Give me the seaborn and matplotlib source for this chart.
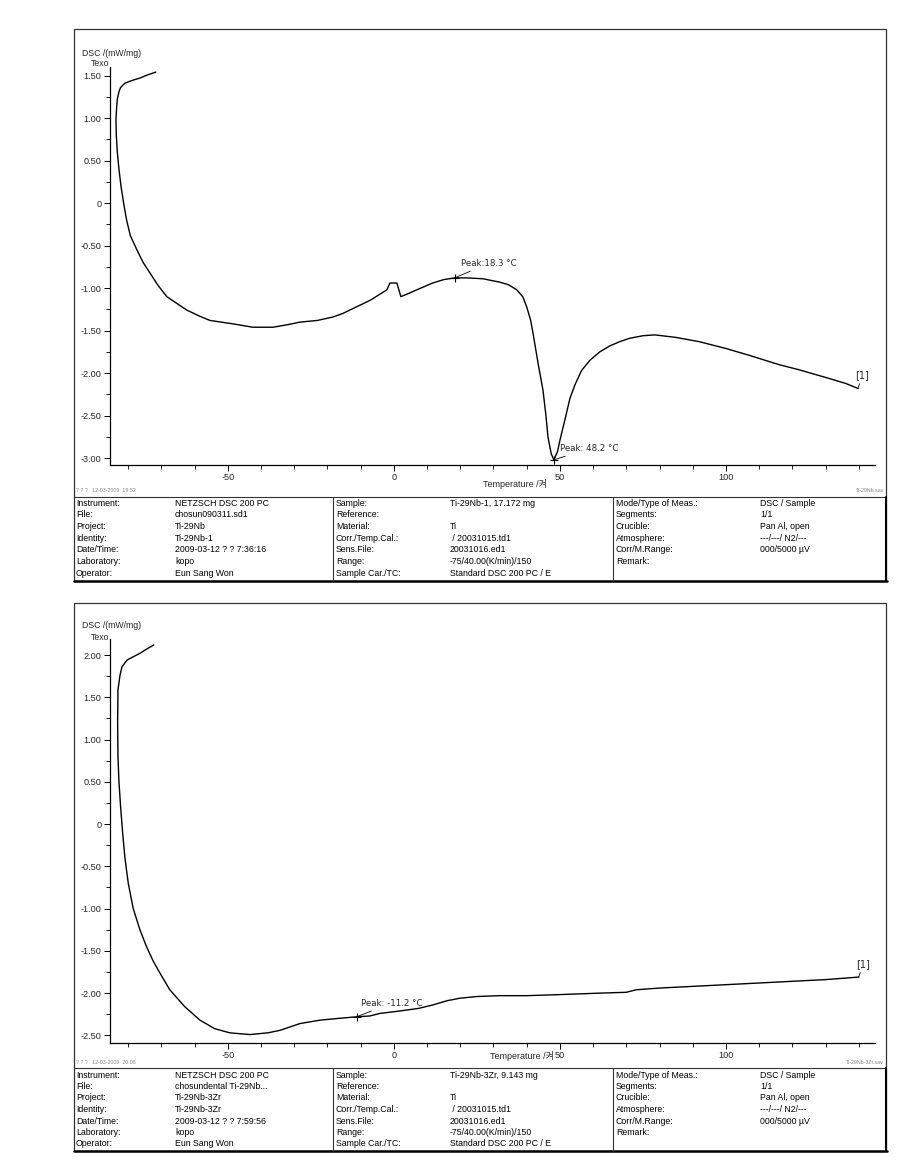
import matplotlib
matplotlib.use("Agg")
import matplotlib.pyplot as plt
import seaborn as sns
import pandas as pd
from matplotlib.ticker import MultipleLocator, FuncFormatter
from matplotlib.patches import Rectangle
from matplotlib.lines import Line2D

# ---------------- data ----------------
top_T = [-71.7, -74, -76.5, -79, -81, -82.3, -82.8, -83.3, -83.5, -83.7, -83.6, -83.3,
         -82.8, -82.2, -81.4, -80.5, -79.4, -77.4, -75.5, -73.5, -71, -68.4, -65, -62.3, -58.5,
         -55.4, -52, -48.5, -42.5, -36.4, -32, -28.3, -23, -18.4, -15.5, -12.3, -7, -2.1,
         -1.2, 0.9, 2.1, 4, 6.9, 11.7, 15, 18.3, 22, 26.8, 31.9, 34.5, 37, 38.8, 40, 41.2,
         41.9, 43.5, 44.9, 45.8, 46.4, 47.4, 48.2, 49.3, 50, 51.5, 53, 54.5, 56.5, 59, 62,
         65, 68, 71, 75, 78.6, 85, 92, 100, 107, 116, 122, 130, 136, 139.8]
top_DSC = [1.54, 1.51, 1.47, 1.44, 1.41, 1.36, 1.31, 1.22, 1.13, 0.98, 0.80, 0.60,
           0.40, 0.20, 0.00, -0.20, -0.38, -0.55, -0.70, -0.82, -0.97, -1.10, -1.19, -1.26, -1.33,
           -1.38, -1.40, -1.42, -1.46, -1.46, -1.43, -1.40, -1.38, -1.34, -1.30, -1.24, -1.14, -1.02,
           -0.94, -0.94, -1.10, -1.07, -1.02, -0.94, -0.90, -0.88, -0.88, -0.89, -0.93, -0.96, -1.02, -1.10, -1.22, -1.38,
           -1.53, -1.90, -2.20, -2.50, -2.75, -2.95, -3.02, -2.92, -2.79, -2.55, -2.30, -2.14, -1.97, -1.85, -1.75,
           -1.68, -1.63, -1.59, -1.56, -1.55, -1.58, -1.63, -1.71, -1.79, -1.90, -1.96, -2.05, -2.12, -2.18]

bot_T = [-72.3, -74.5, -76.5, -78.5, -80.4, -81.9, -82.5, -82.8, -83.1, -83.2, -83.1, -82.8,
         -82.3, -81.7, -81, -80, -78.5, -76.5, -74.5, -72.5, -70.5, -67.5, -63, -58.4, -54, -49.4, -43.4, -38,
         -34.3, -28.3, -22.3, -17, -11.2, -7.2, -4.2, 0, 3.9, 7.5, 11.7, 16, 19.9, 25, 31.9,
         40, 48, 55, 62, 70, 73, 80, 90, 100, 110, 120, 130, 140]
bot_DSC = [2.12, 2.07, 2.02, 1.98, 1.94, 1.86, 1.76, 1.67, 1.59, 1.20, 0.80, 0.50,
           0.20, -0.10, -0.40, -0.70, -1.00, -1.25, -1.45, -1.62, -1.76, -1.96, -2.16, -2.32, -2.42, -2.47, -2.49, -2.47,
           -2.44, -2.36, -2.32, -2.30, -2.28, -2.27, -2.24, -2.22, -2.20, -2.18, -2.14, -2.09, -2.06, -2.04, -2.03,
           -2.03, -2.02, -2.01, -2.00, -1.99, -1.96, -1.94, -1.92, -1.90, -1.88, -1.86, -1.84, -1.81]

top_peaks_T = [18.3, 48.2]
top_peaks_DSC = [-0.88, -3.02]
top_peak_labels = ["Peak:18.3 \u00b0C", "Peak: 48.2 \u00b0C"]
bot_peaks_T = [-11.2]
bot_peaks_DSC = [-2.28]
bot_peak_labels = ["Peak: -11.2 \u00b0C"]

x_major = [-50, 0, 50, 100]

top_table = [
    ["Instrument:", "NETZSCH DSC 200 PC", "Sample:", "Ti-29Nb-1, 17.172 mg", "Mode/Type of Meas.:", "DSC / Sample"],
    ["File:", "chosun090311.sd1", "Reference:", "", "Segments:", "1/1"],
    ["Project:", "Ti-29Nb", "Material:", "Ti", "Crucible:", "Pan Al, open"],
    ["Identity:", "Ti-29Nb-1", "Corr./Temp.Cal.:", " / 20031015.td1", "Atmosphere:", "---/---/ N2/---"],
    ["Date/Time:", "2009-03-12 ? ? 7:36:16", "Sens.File:", "20031016.ed1", "Corr/M.Range:", "000/5000 \u00b5V"],
    ["Laboratory:", "kopo", "Range:", "-75/40.00(K/min)/150", "Remark:", ""],
    ["Operator:", "Eun Sang Won", "Sample Car./TC:", "Standard DSC 200 PC / E", "", ""],
]
bot_table = [
    ["Instrument:", "NETZSCH DSC 200 PC", "Sample:", "Ti-29Nb-3Zr, 9.143 mg", "Mode/Type of Meas.:", "DSC / Sample"],
    ["File:", "chosundental Ti-29Nb...", "Reference:", "", "Segments:", "1/1"],
    ["Project:", "Ti-29Nb-3Zr", "Material:", "Ti", "Crucible:", "Pan Al, open"],
    ["Identity:", "Ti-29Nb-3Zr", "Corr./Temp.Cal.:", " / 20031015.td1", "Atmosphere:", "---/---/ N2/---"],
    ["Date/Time:", "2009-03-12 ? ? 7:59:56", "Sens.File:", "20031016.ed1", "Corr/M.Range:", "000/5000 \u00b5V"],
    ["Laboratory:", "kopo", "Range:", "-75/40.00(K/min)/150", "Remark:", ""],
    ["Operator:", "Eun Sang Won", "Sample Car./TC:", "Standard DSC 200 PC / E", "", ""],
]

# ---------------- styling ----------------
sns.set_theme(style="ticks")
plt.rcParams['font.family'] = ['Liberation Sans', 'Noto Sans CJK KR', 'DejaVu Sans']
plt.rcParams['axes.unicode_minus'] = False

W, H = 913, 1160
fig = plt.figure(figsize=(W / 100, H / 100), dpi=100)
fig.patch.set_facecolor('white')

ANN_FONT = ['DejaVu Sans', 'Noto Sans CJK KR']


def fx(x):
    return x / W


def fy(y):
    return 1 - y / H


def fmt(v, pos):
    if abs(v) < 1e-9:
        return "0"
    return "%.2f" % v


def make_axes(y_top, y_bot, ylim):
    ax = fig.add_axes([fx(110), fy(y_bot), (875 - 110) / W, (y_bot - y_top) / H])
    ax.set_xlim(-85.5, 144.9)
    ax.set_ylim(*ylim)
    ax.set_facecolor('none')
    for s in ['top', 'right']:
        ax.spines[s].set_visible(False)
    for s in ['left', 'bottom']:
        ax.spines[s].set_linewidth(0.9)
        ax.spines[s].set_color('black')
    ax.set_xticks(x_major)
    ax.xaxis.set_minor_locator(MultipleLocator(10))
    ax.yaxis.set_major_locator(MultipleLocator(0.5))
    ax.yaxis.set_minor_locator(MultipleLocator(0.25))
    ax.yaxis.set_major_formatter(FuncFormatter(fmt))
    ax.tick_params(axis='both', which='major', length=4, width=0.7, labelsize=6.6, pad=2, color='black')
    ax.tick_params(axis='both', which='minor', length=3, width=0.6, color='black')
    ax.set_xlabel("")
    ax.set_ylabel("")
    return ax


def draw_curve(ax, T, D):
    df = pd.DataFrame({"T": T, "DSC": D})
    sns.lineplot(data=df, x="T", y="DSC", sort=False, estimator=None, color='black',
                 linewidth=1.0, ax=ax)
    ax.set_xlabel("")
    ax.set_ylabel("")


def draw_peaks(ax, PT, PD, labels, offsets):
    for t, d, lab, off in zip(PT, PD, labels, offsets):
        ax.plot([t], [d], marker='+', ms=6, mew=0.8, color='black')
        ax.annotate(lab, xy=(t, d), xytext=off, textcoords='offset pixels',
                    fontsize=6.2, family=ANN_FONT, ha='left', va='bottom',
                    arrowprops=dict(arrowstyle='-', lw=0.6, color='black', shrinkA=0, shrinkB=0))


def draw_end_tag(ax, T, D):
    ax.annotate("[1]", xy=(T[-1], D[-1]), xytext=(4, 8), textcoords='offset pixels',
                fontsize=7, family=ANN_FONT, ha='center', va='bottom',
                arrowprops=dict(arrowstyle='-', lw=0.6, color='black', shrinkA=0, shrinkB=0))


def draw_frame_and_table(frame_top, frame_bot, table_top, rows, row0, step, footer_y, stamp, fname):
    fig.patches.append(Rectangle((fx(74), fy(frame_bot)), (886 - 74) / W, (frame_bot - frame_top) / H,
                                 transform=fig.transFigure, fill=False, lw=0.9, ec='#333333'))
    fig.lines.append(Line2D([fx(74), fx(886)], [fy(table_top), fy(table_top)],
                            transform=fig.transFigure, lw=0.8, color='#333333'))
    fig.lines.append(Line2D([fx(74), fx(887)], [fy(frame_bot), fy(frame_bot)],
                            transform=fig.transFigure, lw=1.8, color='black'))
    fig.lines.append(Line2D([fx(886), fx(886)], [fy(table_top), fy(frame_bot)],
                            transform=fig.transFigure, lw=1.5, color='black'))
    for xd in [333, 613]:
        fig.lines.append(Line2D([fx(xd), fx(xd)], [fy(table_top), fy(frame_bot)],
                                transform=fig.transFigure, lw=0.8, color='#333333'))
    cols = [76, 175, 336, 450, 616, 760]
    for i, row in enumerate(rows):
        y = row0 + i * step
        for c, txt in zip(cols, row):
            if txt:
                fig.text(fx(c), fy(y), txt, fontsize=6.3, ha='left', va='center', color='black')
    fig.text(fx(76), fy(footer_y), stamp, fontsize=3.8, ha='left', va='center', color='#888888')
    fig.text(fx(884), fy(footer_y), fname, fontsize=3.8, ha='right', va='center', color='#888888')


# ---------------- top panel ----------------
ax1 = make_axes(67, 465, (-3.08, 1.60))
draw_curve(ax1, top_T, top_DSC)
draw_peaks(ax1, top_peaks_T, top_peaks_DSC, top_peak_labels, [(6, 10), (6, 7)])
draw_end_tag(ax1, top_T, top_DSC)
fig.text(fx(82), fy(53), "DSC /(mW/mg)", fontsize=6.3, ha='left', va='center')
fig.text(fx(100), fy(63), "Texo", fontsize=6.3, ha='center', va='center')
fig.text(fx(515), fy(484), "Temperature /\ucf1c", fontsize=6.5, ha='center', va='center')
draw_frame_and_table(29, 581, 497, top_table, 503, 11.7, 491,
                     "? ? ?   12-03-2009  19:52", "Ti-29Nb.sav")

# ---------------- bottom panel ----------------
ax2 = make_axes(639, 1043, (-2.59, 2.19))
draw_curve(ax2, bot_T, bot_DSC)
draw_peaks(ax2, bot_peaks_T, bot_peaks_DSC, bot_peak_labels, [(4, 9)])
draw_end_tag(ax2, bot_T, bot_DSC)
fig.text(fx(82), fy(625), "DSC /(mW/mg)", fontsize=6.3, ha='left', va='center')
fig.text(fx(100), fy(637), "Texo", fontsize=6.3, ha='center', va='center')
fig.text(fx(522), fy(1056), "Temperature /\ucf1c", fontsize=6.5, ha='center', va='center')
draw_frame_and_table(603, 1151, 1068, bot_table, 1075, 11.5, 1063,
                     "? ? ?   12-03-2009  20:08", "Ti-29Nb-3Zr.sav")

fig.savefig("out.png", dpi=100, facecolor='white')
